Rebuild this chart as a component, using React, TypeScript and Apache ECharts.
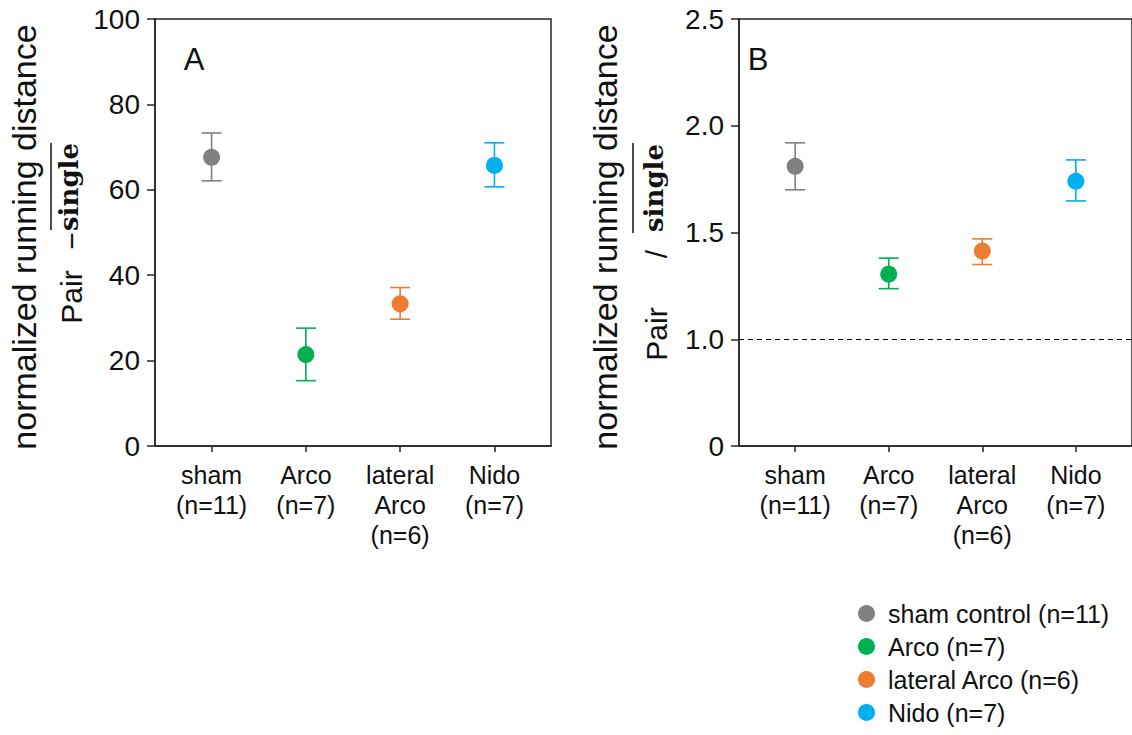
import React, { useEffect, useRef } from "react";
import * as echarts from "echarts";

const categories = ["sham\n(n=11)", "Arco\n(n=7)", "lateral\nArco\n(n=6)", "Nido\n(n=7)"];
const groupNames = ["sham control (n=11)", "Arco (n=7)", "lateral Arco (n=6)", "Nido (n=7)"];
const groupColors = ["#808080", "#00B050", "#ED7D31", "#00B0F0"];

// Panel A: Pair − single
const diffMean = [67.6, 21.4, 33.3, 65.7];
const diffLow = [62.1, 15.3, 29.7, 60.7];
const diffHigh = [73.3, 27.6, 37.1, 71.0];

// Panel B: Pair / single
const ratioMean = [1.81, 1.305, 1.413, 1.74];
const ratioLow = [1.7, 1.237, 1.35, 1.648];
const ratioHigh = [1.92, 1.38, 1.47, 1.84];

const diffTicks = [0, 20, 40, 60, 80, 100];
const ratioTicks = [0.5, 1.0, 1.5, 2.0, 2.5];
const ratioBaseline = 1.0;

const FONT = "'Liberation Sans', Arial, sans-serif";
const SERIF = "'DejaVu Serif', 'Liberation Serif', serif";
const AXIS_COLOR = "#262626";

export default function App() {
  const ref = useRef<HTMLDivElement>(null);

  useEffect(() => {
    document.body.style.margin = "0";
    const chart = echarts.init(ref.current!, null, { renderer: "svg" });

    const xAxisBase = (gridIndex: number) => ({
      type: "value",
      gridIndex,
      min: -0.6,
      max: 3.6,
      splitLine: { show: false },
      axisLine: { onZero: false, lineStyle: { color: AXIS_COLOR, width: 1.5 } },
      axisTick: {
        show: true,
        customValues: [0, 1, 2, 3],
        length: 6,
        lineStyle: { color: AXIS_COLOR, width: 1.5 },
      },
      axisLabel: {
        customValues: [0, 1, 2, 3],
        formatter: (v: number) => categories[Math.round(v)] ?? "",
        fontSize: 25,
        lineHeight: 30,
        color: "#111",
        fontFamily: FONT,
        margin: 14,
        verticalAlign: "top",
      },
    });

    const yAxisBase = (gridIndex: number) => ({
      type: "value",
      gridIndex,
      splitLine: { show: false },
      axisLine: { show: true, onZero: false, lineStyle: { color: AXIS_COLOR, width: 1.5 } },
      axisTick: { show: true, length: 8, lineStyle: { color: AXIS_COLOR, width: 1.5 } },
      axisLabel: { fontSize: 28, color: "#111", fontFamily: FONT, margin: 15 },
    });

    const errRender = (params: any, api: any) => {
      const x = api.value(0);
      const lo = api.value(1);
      const hi = api.value(2);
      const c = groupColors[api.value(3)];
      const pLo = api.coord([x, lo]);
      const pHi = api.coord([x, hi]);
      const w = 10;
      const st = { stroke: c, lineWidth: 1.6 };
      return {
        type: "group",
        children: [
          { type: "line", shape: { x1: pLo[0], y1: pLo[1], x2: pHi[0], y2: pHi[1] }, style: st },
          { type: "line", shape: { x1: pLo[0] - w, y1: pLo[1], x2: pLo[0] + w, y2: pLo[1] }, style: st },
          { type: "line", shape: { x1: pHi[0] - w, y1: pHi[1], x2: pHi[0] + w, y2: pHi[1] }, style: st },
        ],
      };
    };

    const series: any[] = [];
    [0, 1].forEach((panel) => {
      const mean = panel === 0 ? diffMean : ratioMean;
      const low = panel === 0 ? diffLow : ratioLow;
      const high = panel === 0 ? diffHigh : ratioHigh;
      series.push({
        type: "custom",
        xAxisIndex: panel,
        yAxisIndex: panel,
        renderItem: errRender,
        encode: { x: 0, y: [1, 2] },
        data: mean.map((_, i) => [i, low[i], high[i], i]),
        z: 2,
      });
      groupNames.forEach((name, i) => {
        const s: any = {
          type: "scatter",
          name,
          xAxisIndex: panel,
          yAxisIndex: panel,
          symbol: "circle",
          symbolSize: 17,
          itemStyle: { color: groupColors[i], opacity: 1 },
          data: [[i, mean[i]]],
          z: 3,
        };
        if (panel === 1 && i === 0) {
          s.markLine = {
            silent: true,
            symbol: "none",
            label: { show: false },
            lineStyle: { color: "#000", type: [5, 4], width: 1.2 },
            data: [{ yAxis: ratioBaseline }],
          };
        }
        series.push(s);
      });
    });

    const rot = Math.PI / 2;
    const t = (x: number, y: number, text: string, fontSize: number, fontFamily = FONT, fontWeight = "normal") => ({
      type: "text",
      x,
      y,
      rotation: rot,
      style: { text, fontSize, fontFamily, fontWeight, fill: "#111", align: "center", verticalAlign: "middle" },
    });

    chart.setOption({
      animation: false,
      backgroundColor: "#fff",
      grid: [
        { left: 155, top: 19, width: 396, height: 427, show: true, borderColor: AXIS_COLOR, borderWidth: 1.5, backgroundColor: "transparent" },
        { left: 739, top: 19, width: 395, height: 427, show: true, borderColor: AXIS_COLOR, borderWidth: 1.5, backgroundColor: "transparent" },
      ],
      xAxis: [xAxisBase(0), xAxisBase(1)],
      yAxis: [
        { ...yAxisBase(0), min: diffTicks[0], max: diffTicks[diffTicks.length - 1], interval: 20 },
        {
          ...yAxisBase(1),
          min: ratioTicks[0],
          max: ratioTicks[ratioTicks.length - 1],
          interval: 0.5,
          axisLabel: {
            ...yAxisBase(1).axisLabel,
            formatter: (v: number) => (Math.abs(v - ratioTicks[0]) < 1e-9 ? "0" : v.toFixed(1)),
          },
        },
      ],
      legend: {
        orient: "vertical",
        left: 858,
        top: 601,
        padding: 0,
        height: 134,
        itemWidth: 17,
        itemHeight: 17,
        itemGap: 8,
        icon: "circle",
        data: groupNames,
        textStyle: { fontSize: 25, color: "#111", fontFamily: FONT, padding: [0, 0, 0, 8] },
      },
      graphic: [
        { type: "text", x: 194, y: 59, style: { text: "A", fontSize: 31, fill: "#111", fontFamily: FONT, align: "center", verticalAlign: "middle" } },
        { type: "text", x: 758, y: 59, style: { text: "B", fontSize: 31, fill: "#111", fontFamily: FONT, align: "center", verticalAlign: "middle" } },
        // Panel A y title
        t(24, 237, "normalized running distance", 34),
        t(71, 297, "Pair", 30),
        t(71, 241, "−", 30),
        t(69, 187, "single", 26, SERIF, "bold"),
        { type: "line", shape: { x1: 51, y1: 143, x2: 51, y2: 230 }, style: { stroke: "#111", lineWidth: 1.5 } },
        // Panel B y title
        t(605, 237, "normalized running distance", 34),
        t(656, 334, "Pair", 30),
        t(656, 254, "/", 30),
        t(654, 188, "single", 26, SERIF, "bold"),
        { type: "line", shape: { x1: 633, y1: 143, x2: 633, y2: 233 }, style: { stroke: "#111", lineWidth: 1.5 } },
      ],
      series,
    });

    return () => chart.dispose();
  }, []);

  return <div ref={ref} style={{ width: 1132, height: 735 }} />;
}
